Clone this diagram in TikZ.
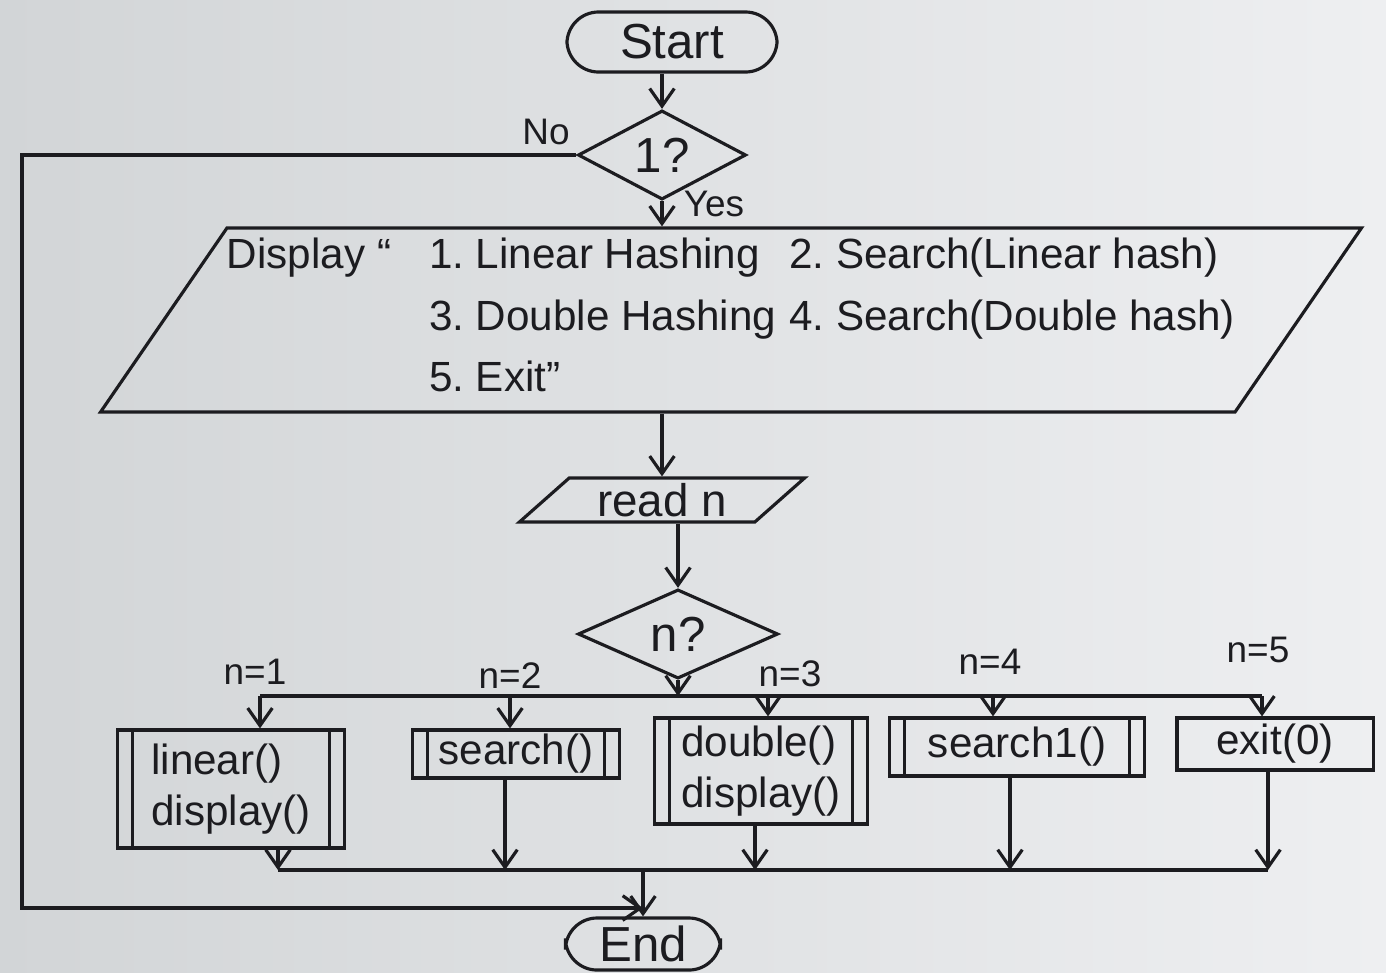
\documentclass[tikz,border=0pt]{standalone}
\usepackage{fontspec}
\setmainfont{Liberation Sans}
\usetikzlibrary{shapes.geometric,arrows.meta}
\definecolor{ink}{RGB}{28,28,32}
\definecolor{paperL}{RGB}{210,213,215}
\definecolor{paperR}{RGB}{238,239,241}
\frenchspacing
\begin{document}
\begin{tikzpicture}[x=0.01cm,y=-0.01cm,
  every node/.style={text=ink},
  line/.style={draw=ink,line width=0.9pt},
  arr/.style={line,-{Straight Barb[length=5pt,width=7pt]}},
  term/.style={line,rectangle,rounded corners=9pt,inner sep=0pt,font=\fontsize{14}{16}\selectfont},
  decide/.style={line,diamond,inner sep=0pt,font=\fontsize{14}{16}\selectfont},
  io/.style={line,trapezium,trapezium stretches body,inner sep=0pt},
  procbox/.style={line,rectangle,inner sep=0pt,align=left,font=\fontsize{12}{14.5}\selectfont},
  subproc/.style={procbox,
    path picture={\draw[ink,line width=0.9pt]
      ([xshift=4.3pt]path picture bounding box.north west) -- ([xshift=4.3pt]path picture bounding box.south west)
      ([xshift=-4.3pt]path picture bounding box.north east) -- ([xshift=-4.3pt]path picture bounding box.south east);}},
  lbl/.style={font=\fontsize{10.5}{12}\selectfont}
]
% paper
\useasboundingbox (0,0) rectangle (1386,972);
\fill[left color=paperL,right color=paperR] (0,0) rectangle (1386,972);

% main column
\node[term,minimum width=2.1cm,minimum height=0.6cm] (start) at (672,42) {Start};
\node[decide,minimum width=1.68cm,minimum height=0.72cm] (q1) at (662,155) {1?};
\node[io,trapezium left angle=54,trapezium right angle=126,minimum height=1.84cm,
      font=\fontsize{12}{14.5}\selectfont] (disp) at (731,320)
  {\begin{tabular}{@{}p{2.02cm}@{}p{3.6cm}@{}l@{}}
   Display “ & 1. Linear Hashing & 2. Search(Linear hash)\\[3pt]
            & 3. Double Hashing & 4. Search(Double hash)\\[3pt]
            & 5. Exit”          &
   \end{tabular}};
\node[io,trapezium left angle=34,trapezium right angle=146,
      minimum width=2.85cm,minimum height=0.44cm,font=\fontsize{13}{15}\selectfont] (readn) at (662,500) {read n};
\node[decide,minimum width=2cm,minimum height=0.84cm] (q2) at (678,634) {n?};

% branches
\node[subproc,minimum width=2.27cm,minimum height=1.18cm] (b1) at (231,789) {linear()\\display()};
\node[subproc,minimum width=2.07cm,minimum height=0.48cm] (b2) at (516,754) {search()};
\node[subproc,minimum width=2.13cm,minimum height=1.06cm] (b3) at (761,771) {double()\\display()};
\node[subproc,minimum width=2.55cm,minimum height=0.58cm] (b4) at (1017,747) {search1()};
\node[procbox,minimum width=1.96cm,minimum height=0.52cm] (b5) at (1275,744) {exit(0)};

\node[term,minimum width=1.55cm,minimum height=0.52cm] (end) at (643,944) {End};

% labels
\node[lbl] (no) at (546,132) {No};
\node[lbl] (yes) at (714,204) {Yes};
\node[lbl] (l1) at (255,672) {n=1};
\node[lbl] (l2) at (510,676) {n=2};
\node[lbl] (l3) at (790,674) {n=3};
\node[lbl] (l4) at (990,662) {n=4};
\node[lbl] (l5) at (1258,650) {n=5};

% junction points
\coordinate (j1) at (260,696);
\coordinate (j2) at (510,696);
\coordinate (j3) at (768,696);
\coordinate (j4) at (993,696);
\coordinate (j5) at (1262,696);
\coordinate (m1) at (278,870);
\coordinate (m2) at (505,870);
\coordinate (m3) at (755,870);
\coordinate (m4) at (1010,870);
\coordinate (m5) at (1268,870);
\coordinate (mj) at (643,870);
\coordinate (lb) at (22,908);
\coordinate (lj) at (643,908);

% flow
\draw[arr] (q1.north |- start.south) -- (q1.north);
\draw[arr] (q1.south) -- (q1.south |- disp.north);
\draw[arr] (readn.north |- disp.south) -- (readn.north);
\draw[arr] (q2.north |- readn.south) -- (q2.north);
\draw[arr] (q2.south) -- (q2.south |- j1);
\draw[line] (j1) -- (j5);
\draw[arr] (j1) -- (j1 |- b1.north);
\draw[arr] (j2) -- (j2 |- b2.north);
\draw[arr] (j3) -- (j3 |- b3.north);
\draw[arr] (j4) -- (j4 |- b4.north);
\draw[arr] (j5) -- (j5 |- b5.north);
\draw[arr] (m1 |- b1.south) -- (m1);
\draw[arr] (m2 |- b2.south) -- (m2);
\draw[arr] (m3 |- b3.south) -- (m3);
\draw[arr] (m4 |- b4.south) -- (m4);
\draw[arr] (m5 |- b5.south) -- (m5);
\draw[line] (m1) -- (m5);
\draw[arr] (mj) -- (mj |- end.north);
\draw[arr] (q1.west) -| (lb) -- (lj);
\end{tikzpicture}
\end{document}
